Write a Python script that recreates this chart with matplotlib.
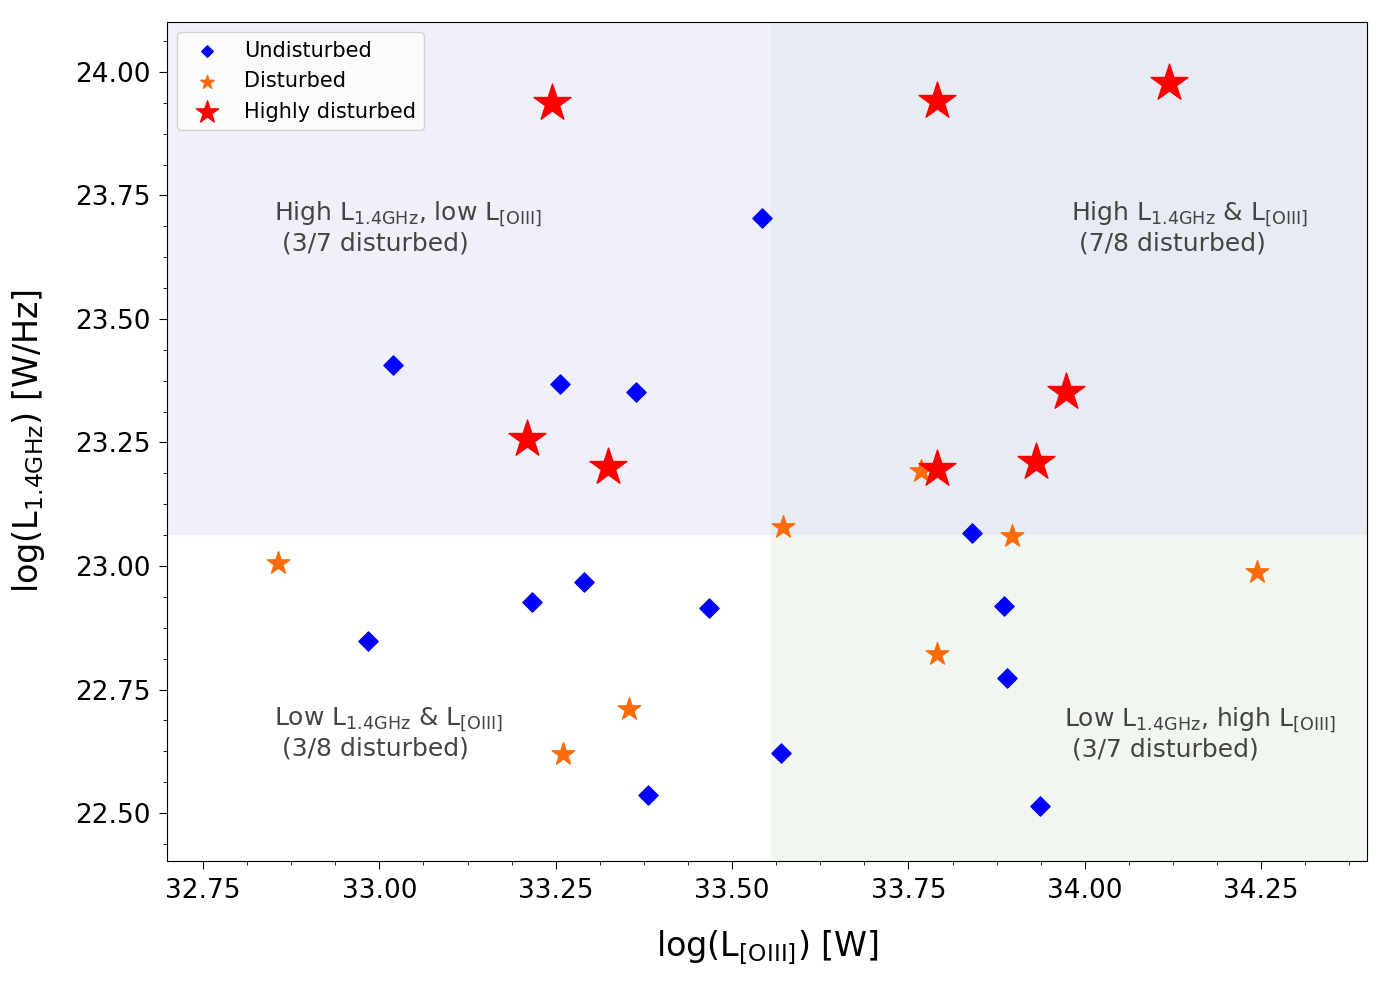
import matplotlib
matplotlib.use('Agg')
import matplotlib.pyplot as plt
from matplotlib.ticker import AutoMinorLocator

# undisturbed
und_x = [33.543, 33.019, 33.256, 33.364, 33.840, 33.290, 33.216, 32.984,
         33.467, 33.886, 33.889, 33.570, 33.381, 33.937]
und_y = [23.704, 23.406, 23.368, 23.353, 23.066, 22.968, 22.928, 22.849,
         22.915, 22.920, 22.774, 22.622, 22.536, 22.514]

# disturbed
dis_x = [32.856, 33.572, 33.768, 33.897, 34.244, 33.791, 33.354, 33.260]
dis_y = [23.007, 23.078, 23.193, 23.060, 22.988, 22.822, 22.711, 22.620]

# highly disturbed
hd_x = [33.245, 33.791, 34.120, 33.974, 33.931, 33.791, 33.209, 33.324]
hd_y = [23.937, 23.941, 23.978, 23.353, 23.211, 23.197, 23.258, 23.201]

x_split = 33.555
y_split = 23.062
xlim = (32.699, 34.40)
ylim = (22.403, 24.101)

fig = plt.figure(figsize=(13.9, 9.81), dpi=100)
ax = fig.add_axes([167/1390, 1-861/981, 1200/1390, 839/981])

# quadrant shading
ax.fill_between([xlim[0], x_split], y_split, ylim[1], color='#f0f0fa', zorder=0, lw=0)
ax.fill_between([x_split, xlim[1]], y_split, ylim[1], color='#e7ebf3', zorder=0, lw=0)
ax.fill_between([x_split, xlim[1]], ylim[0], y_split, color='#f2f6f0', zorder=0, lw=0)

ax.scatter(und_x, und_y, marker='D', s=95, color='blue', label='Undisturbed', zorder=3)
ax.scatter(dis_x, dis_y, marker='*', s=290, color='#ff6a0a', label='Disturbed', zorder=3)
ax.scatter(hd_x, hd_y, marker='*', s=780, color='red', label='Highly disturbed', zorder=4)

tc = '#444444'
ax.text(32.851, 23.686, 'High L$_{\\rm 1.4GHz}$, low L$_{\\rm [OIII]}$\n (3/7 disturbed)',
        fontsize=18, color=tc, va='center', ha='left')
ax.text(33.981, 23.686, 'High L$_{\\rm 1.4GHz}$ & L$_{\\rm [OIII]}$\n (7/8 disturbed)',
        fontsize=18, color=tc, va='center', ha='left')
ax.text(32.851, 22.662, 'Low L$_{\\rm 1.4GHz}$ & L$_{\\rm [OIII]}$\n (3/8 disturbed)',
        fontsize=18, color=tc, va='center', ha='left')
ax.text(33.971, 22.662, 'Low L$_{\\rm 1.4GHz}$, high L$_{\\rm [OIII]}$\n (3/7 disturbed)',
        fontsize=18, color=tc, va='center', ha='left')

ax.set_xlim(xlim)
ax.set_ylim(ylim)
ax.set_xticks([32.75, 33.0, 33.25, 33.5, 33.75, 34.0, 34.25])
ax.set_yticks([22.5, 22.75, 23.0, 23.25, 23.5, 23.75, 24.0])
ax.xaxis.set_minor_locator(AutoMinorLocator(4))
ax.yaxis.set_minor_locator(AutoMinorLocator(4))
ax.tick_params(axis='both', which='major', labelsize=19, length=6, pad=6)
ax.tick_params(axis='both', which='minor', length=3)

ax.set_xlabel('log(L$_{\\rm [OIII]}$) [W]', fontsize=24, labelpad=18)
ax.set_ylabel('log(L$_{\\rm 1.4GHz}$) [W/Hz]', fontsize=24, labelpad=20)

ax.legend(loc='upper left', fontsize=15, markerscale=0.6)

plt.savefig('out.png', dpi=100)
